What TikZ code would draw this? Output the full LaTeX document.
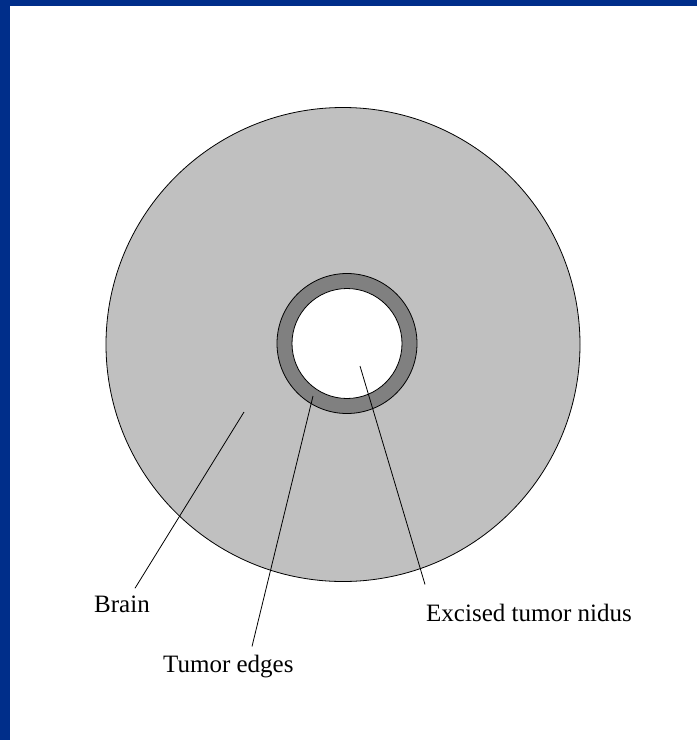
\documentclass[tikz,border=0pt]{standalone}
\usepackage{fontspec}
\setmainfont{Liberation Serif}
\usetikzlibrary{positioning, calc}
\definecolor{frameblue}{RGB}{0,46,138}
\definecolor{brainfill}{RGB}{192,192,192}
\definecolor{edgefill}{RGB}{128,128,128}

\begin{document}
\begin{tikzpicture}[
    x=1pt, y=-1pt,
    outline/.style={draw=black, line width=0.8pt},
    label/.style={inner sep=0pt, anchor=base west, font=\fontsize{25}{30}\selectfont},
    pointer/.style={draw=black, line width=0.8pt}
]
    \useasboundingbox (0,0) rectangle (697,740);

    % Slide frame
    \fill[frameblue] (0,0) rectangle (697,6);
    \fill[frameblue] (0,0) rectangle (10,740);

    % Brain, tumor edges and excised nidus
    \draw[outline, fill=brainfill] (343,344.5) circle (237);
    \draw[outline, fill=edgefill] (347,343.5) circle (70);
    \draw[outline, fill=white] (347,343.5) circle (55);

    % Pointer tips
    \coordinate (brain tip) at (244,412);
    \coordinate (edges tip) at (313,396);
    \coordinate (nidus tip) at (360,366);

    % Labels
    \node[label] (brain) at (94,612) {Brain};
    \node[label] (edges) at (163,672) {Tumor edges};
    \node[label] (nidus) at (426,621) {Excised tumor nidus};

    % Connectors
    \draw[pointer] (brain tip) -- ([xshift=41pt, yshift=7pt]brain.north west);
    \draw[pointer] (edges tip) -- ([xshift=89pt, yshift=8pt]edges.north west);
    \draw[pointer] (nidus tip) -- ([xshift=-1pt, yshift=19pt]nidus.north west);

\end{tikzpicture}
\end{document}
